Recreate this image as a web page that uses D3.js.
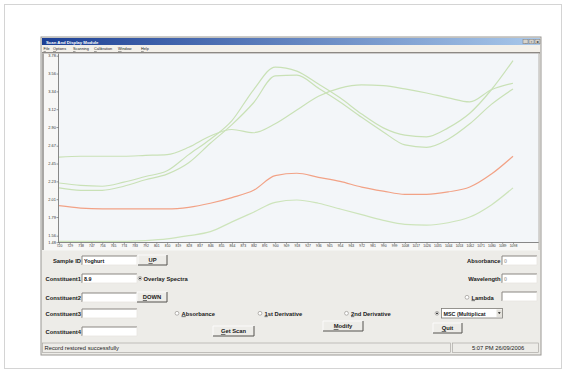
<!DOCTYPE html>
<html>
<head>
<meta charset="utf-8">
<script src="https://cdn.jsdelivr.net/npm/d3@7"></script>
<style>
  body { margin: 0; background: #fff; }
  svg { display: block; font-family: "Liberation Sans", Arial, sans-serif; }
</style>
</head>
<body>
<svg id="chart" width="566" height="373"></svg>
<script>
// Wavelength grid (nm) of the stored spectra
const wavelengths = [720, 738, 756, 774, 792, 810, 828, 846, 864, 882, 900,
                     918, 936, 954, 972, 990, 1008, 1026, 1044, 1062, 1080, 1098];

// Overlaid reference spectra (MSC-corrected absorbance)
const spectrumA = [2.53, 2.54, 2.54, 2.54, 2.55, 2.56, 2.65, 2.79, 2.87, 2.83, 2.94,
                   3.11, 3.28, 3.38, 3.42, 3.41, 3.37, 3.32, 3.26, 3.21, 3.36, 3.44];
const spectrumB = [2.21, 2.18, 2.17, 2.22, 2.29, 2.36, 2.56, 2.75, 2.98, 3.36, 3.64,
                   3.59, 3.43, 3.26, 3.06, 2.89, 2.80, 2.78, 2.89, 3.07, 3.36, 3.72];
const spectrumC = [2.15, 2.12, 2.12, 2.17, 2.25, 2.32, 2.46, 2.70, 2.93, 3.20, 3.53,
                   3.54, 3.38, 3.21, 3.02, 2.84, 2.68, 2.65, 2.75, 2.94, 3.18, 3.37];
const spectrumD = [1.49, 1.49, 1.49, 1.49, 1.50, 1.52, 1.56, 1.61, 1.73, 1.85, 1.97,
                   2.00, 1.96, 1.89, 1.82, 1.75, 1.70, 1.69, 1.72, 1.79, 1.94, 2.15];
// Currently selected sample (Yoghurt)
const selectedSpectrum = [1.93, 1.90, 1.89, 1.89, 1.89, 1.89, 1.91, 1.96, 2.03, 2.12, 2.30,
                          2.33, 2.28, 2.23, 2.16, 2.11, 2.07, 2.07, 2.10, 2.16, 2.32, 2.54];

// Axis ticks
const yTickValues = [3.78, 3.56, 3.34, 3.12, 2.90, 2.67, 2.45, 2.23, 2.01, 1.79, 1.56, 1.48];
const yTickLabels = ["3.78", "3.56", "3.34", "3.12", "2.90", "2.67", "2.45", "2.23", "2.01", "1.79", "1.56", "1.48"];
const xTickValues = [720, 729, 738, 747, 756, 765, 774, 783, 792, 801, 810, 819, 828, 837, 846,
                     855, 864, 873, 882, 891, 900, 909, 918, 927, 936, 945, 954, 963, 972, 981,
                     990, 999, 1008, 1017, 1026, 1035, 1044, 1053, 1062, 1071, 1080, 1089, 1098];

const svg = d3.select("#chart");
const defs = svg.append("defs");

// page frame
svg.append("rect").attr("x", 4.5).attr("y", 4.5).attr("width", 557).attr("height", 364)
  .attr("fill", "#fff").attr("stroke", "#d4d4d4");

// ---------- window chrome ----------
const win = { x: 41, y: 37, w: 500, h: 318 };
svg.append("rect").attr("x", win.x).attr("y", win.y).attr("width", win.w).attr("height", win.h)
  .attr("fill", "#edece8").attr("stroke", "#9a9894");

const tg = defs.append("linearGradient").attr("id", "titleGrad");
tg.append("stop").attr("offset", "0%").attr("stop-color", "#1c3f94");
tg.append("stop").attr("offset", "100%").attr("stop-color", "#a9c8ea");
svg.append("rect").attr("x", win.x + 1).attr("y", win.y + 1).attr("width", win.w - 2).attr("height", 7)
  .attr("fill", "url(#titleGrad)");
svg.append("text").attr("x", 46).attr("y", 43.6).attr("font-size", 4.3).attr("font-weight", "bold")
  .attr("fill", "#fff").text("Scan And Display Module");
// caption buttons
[523, 529, 535].forEach((bx, i) => {
  svg.append("rect").attr("x", bx).attr("y", 39.2).attr("width", 5).attr("height", 4.6)
    .attr("fill", "#d6d3cc").attr("stroke", "#6d6a66").attr("stroke-width", 0.4);
  svg.append("text").attr("x", bx + 2.5).attr("y", 43.1).attr("text-anchor", "middle")
    .attr("font-size", 4).attr("font-weight", "bold").attr("fill", "#111").text(["_", "▫", "x"][i]);
});

// menu bar
svg.append("rect").attr("x", win.x + 1).attr("y", 45).attr("width", win.w - 2).attr("height", 7)
  .attr("fill", "#f3f0ea");
const menuItems = [["File", 43.5], ["Options", 53], ["Scanning", 73], ["Calibration", 94], ["Window", 118], ["Help", 141]];
menuItems.forEach(([t, mx]) => {
  const tx = svg.append("text").attr("x", mx).attr("y", 50.4).attr("font-size", 3.8).attr("fill", "#222");
  tx.append("tspan").attr("text-decoration", "underline").text(t[0]);
  tx.append("tspan").text(t.slice(1));
});
svg.append("rect").attr("x", win.x + 1).attr("y", 52).attr("width", win.w - 2).attr("height", 1.6)
  .attr("fill", "#8d8985");

// ---------- plot ----------
const plot = { left: 59, right: 539, top: 53.6, bottom: 242.5 };
svg.append("rect").attr("x", win.x + 1).attr("y", plot.top).attr("width", plot.left - win.x - 1)
  .attr("height", plot.bottom - plot.top + 8).attr("fill", "#f7f7f6");
svg.append("rect").attr("x", plot.left).attr("y", plot.bottom).attr("width", plot.right - plot.left)
  .attr("height", 8).attr("fill", "#f7f7f6");
svg.append("rect").attr("x", plot.left).attr("y", plot.top).attr("width", plot.right - plot.left)
  .attr("height", plot.bottom - plot.top).attr("fill", "#f3f6f9");
svg.append("line").attr("x1", 43).attr("x2", 43).attr("y1", plot.top).attr("y2", 250)
  .attr("stroke", "#8f8c88").attr("stroke-width", 1.5);

const x = d3.scaleLinear().domain([720, 1098]).range([59, 513]);
const y = d3.scaleLinear().domain([1.56, 3.78]).range([235.7, 55.7]);

defs.append("clipPath").attr("id", "plotClip").append("rect")
  .attr("x", plot.left).attr("y", plot.top).attr("width", plot.right - plot.left)
  .attr("height", plot.bottom - plot.top);

const line = d3.line().x((d, i) => x(wavelengths[i])).y(d => y(d)).curve(d3.curveMonotoneX);
const series = [
  { values: spectrumD, color: "#cde4bb" },
  { values: spectrumA, color: "#c9e1b6" },
  { values: spectrumC, color: "#c9e1b6" },
  { values: spectrumB, color: "#c9e1b6" },
  { values: selectedSpectrum, color: "#f2a286" }
];
svg.append("g").attr("clip-path", "url(#plotClip)")
  .selectAll("path").data(series).join("path")
  .attr("d", d => line(d.values))
  .attr("fill", "none").attr("stroke", d => d.color).attr("stroke-width", 1.2);

// y axis
const yAxis = svg.append("g").attr("transform", `translate(${plot.left - 0.5},0)`)
  .call(d3.axisLeft(y).tickValues(yTickValues).tickSize(2).tickSizeOuter(0)
    .tickFormat((d, i) => yTickLabels[i]));
yAxis.select(".domain").remove();
yAxis.selectAll(".tick line").attr("stroke", "#555").attr("stroke-width", 0.6);
yAxis.selectAll(".tick text").attr("font-size", 3.9).attr("fill", "#333").attr("x", -2.6)
  .attr("font-family", "Liberation Sans, Arial, sans-serif");
svg.append("line").attr("x1", plot.left - 0.5).attr("x2", plot.left - 0.5)
  .attr("y1", plot.top).attr("y2", plot.bottom).attr("stroke", "#6b6b6b").attr("stroke-width", 0.8);

// x axis
const xAxis = svg.append("g").attr("transform", `translate(0,${plot.bottom})`)
  .call(d3.axisBottom(x).tickValues(xTickValues).tickSize(1.6).tickSizeOuter(0).tickFormat(d3.format("d")));
xAxis.select(".domain").remove();
xAxis.selectAll(".tick line").attr("stroke", "#555").attr("stroke-width", 0.5);
xAxis.selectAll(".tick text").attr("font-size", 3.4).attr("fill", "#333").attr("y", 2.4)
  .attr("font-family", "Liberation Sans, Arial, sans-serif");
svg.append("line").attr("x1", plot.left - 1).attr("x2", plot.right)
  .attr("y1", plot.bottom).attr("y2", plot.bottom).attr("stroke", "#6b6b6b").attr("stroke-width", 0.8);
svg.append("line").attr("x1", plot.right).attr("x2", plot.right)
  .attr("y1", plot.top).attr("y2", 250).attr("stroke", "#b5b2ad").attr("stroke-width", 1);

// ---------- controls ----------
const ui = svg.append("g").attr("font-size", 5.8).attr("fill", "#1a1a1a");

function label(tx, ty, text, anchor = "end", bold = true, underline = -1) {
  const t = ui.append("text").attr("x", tx).attr("y", ty).attr("text-anchor", anchor)
    .attr("font-weight", bold ? "bold" : "normal");
  if (underline < 0) { t.text(text); return t; }
  t.append("tspan").text(text.slice(0, underline));
  t.append("tspan").attr("text-decoration", "underline").text(text[underline]);
  t.append("tspan").text(text.slice(underline + 1));
  return t;
}
function textbox(bx, by, w, h, text, color = "#111") {
  ui.append("rect").attr("x", bx).attr("y", by).attr("width", w).attr("height", h).attr("fill", "#fff");
  ui.append("path").attr("d", `M${bx},${by + h}V${by}H${bx + w}`).attr("fill", "none")
    .attr("stroke", "#8a8782").attr("stroke-width", 1);
  ui.append("path").attr("d", `M${bx + w},${by}V${by + h}H${bx}`).attr("fill", "none")
    .attr("stroke", "#e8e6e1").attr("stroke-width", 0.8);
  if (text) ui.append("text").attr("x", bx + 2).attr("y", by + h - 2.3).attr("font-weight", "bold")
    .attr("font-size", 5.4).attr("fill", color).text(text);
}
function button(bx, by, w, h, text, underline = 0) {
  ui.append("rect").attr("x", bx).attr("y", by).attr("width", w).attr("height", h).attr("fill", "#edece8");
  ui.append("path").attr("d", `M${bx},${by + h}V${by}H${bx + w}`).attr("fill", "none")
    .attr("stroke", "#ffffff").attr("stroke-width", 0.8);
  ui.append("path").attr("d", `M${bx + w},${by}V${by + h}H${bx}`).attr("fill", "none")
    .attr("stroke", "#55524e").attr("stroke-width", 1);
  label(bx + w / 2, by + h / 2 + 2, text, "middle", true, underline);
}
function radio(cx, cy, checked) {
  ui.append("circle").attr("cx", cx).attr("cy", cy).attr("r", 1.9).attr("fill", "#fff")
    .attr("stroke", "#8a8782").attr("stroke-width", 0.6);
  if (checked) ui.append("circle").attr("cx", cx).attr("cy", cy).attr("r", 0.9).attr("fill", "#111");
}

// left column
label(81, 262.5, "Sample ID");
textbox(82, 256, 55, 9, "Yoghurt");
button(138, 255, 29, 10, "UP", 0);

label(81, 280.5, "Constituent1");
textbox(82, 274, 55, 9, "8.9");
radio(140, 278.3, true);
label(143.5, 280.5, "Overlay Spectra", "start");

label(81, 299.5, "Constituent2");
textbox(82, 293, 55, 9, "");
button(137, 292, 30, 10, "DOWN", 0);

label(81, 315.5, "Constituent3");
textbox(82, 309, 55, 9, "");
label(81, 333.5, "Constituent4");
textbox(82, 327, 55, 9, "");

// display mode row
radio(177, 313.3, false);
label(181.5, 315.5, "Absorbance", "start", true, 0);
radio(260, 313.3, false);
label(264.5, 315.5, "1st Derivative", "start", true, 0);
radio(346.5, 313.3, false);
label(351, 315.5, "2nd Derivative", "start", true, 0);
radio(437, 313.3, true);
// pretreatment drop-down
ui.append("rect").attr("x", 441.5).attr("y", 308.5).attr("width", 61).attr("height", 9.5)
  .attr("fill", "#fff").attr("stroke", "#7d7a76").attr("stroke-width", 0.8);
ui.append("text").attr("x", 443.5).attr("y", 315.5).attr("font-size", 5.4).attr("font-weight", "bold")
  .text("MSC (Multiplicat");
ui.append("rect").attr("x", 496.5).attr("y", 309.5).attr("width", 5.5).attr("height", 7.5).attr("fill", "#e4e2dc");
ui.append("path").attr("d", "M497.9,312.3h2.8l-1.4,1.8z").attr("fill", "#111");

// right column
label(500.5, 262.5, "Absorbance");
textbox(502, 256, 35, 9, "0", "#b0aeaa");
label(500.5, 280.5, "Wavelength");
textbox(502, 274, 35, 9, "0", "#b0aeaa");
radio(467, 297.3, false);
label(471.5, 299.5, "Lambda", "start", true, 0);
textbox(502, 292, 35, 9, "");

// action buttons
button(213, 326, 41, 10, "Get Scan", 0);
button(323, 321, 40, 10, "Modify", 0);
button(433, 323, 29, 10, "Quit", 0);

// status bar
ui.append("rect").attr("x", 42.5).attr("y", 343).attr("width", 408).attr("height", 9.5)
  .attr("fill", "#edece8").attr("stroke", "#a19e99").attr("stroke-width", 0.6);
ui.append("rect").attr("x", 452.5).attr("y", 343).attr("width", 86).attr("height", 9.5)
  .attr("fill", "#edece8").attr("stroke", "#a19e99").attr("stroke-width", 0.6);
label(44.5, 350.2, "Record restored successfully", "start", false);
label(472, 350.2, "5:07 PM  26/09/2006", "start", false);
</script>
</body>
</html>
